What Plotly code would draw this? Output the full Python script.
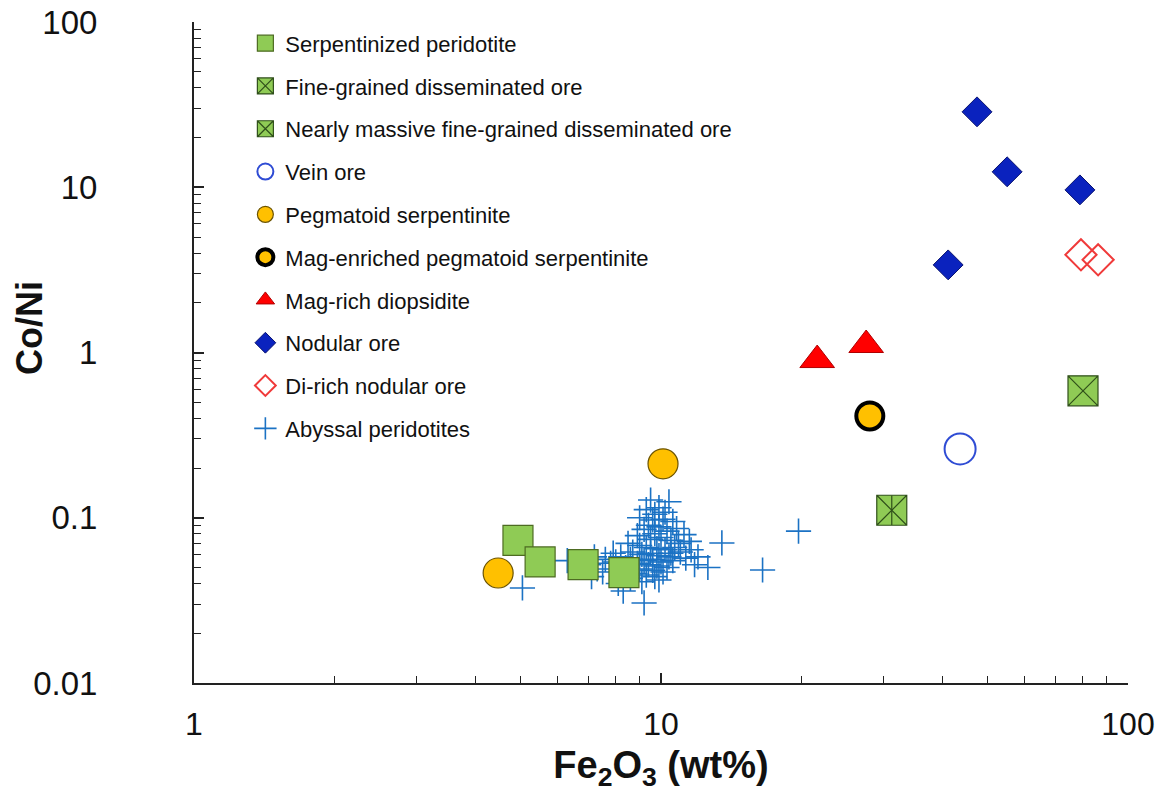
import plotly.graph_objects as go

# ---------------- data ----------------
serp_x = [4.94, 5.51, 6.81, 8.33]
serp_y = [0.073, 0.054, 0.052, 0.0465]

fine_x = [31.2]
fine_y = [0.111]

massive_x = [80.1]
massive_y = [0.586]

vein_x = [43.7]
vein_y = [0.261]

pegm_x = [4.48, 10.1]
pegm_y = [0.0463, 0.212]

magpeg_x = [28.0]
magpeg_y = [0.413]

diop_x = [21.6, 27.5]
diop_y = [0.90, 1.11]

nod_x = [47.5, 55.1, 78.9, 41.2]
nod_y = [28.6, 12.4, 9.64, 3.39]

dinod_x = [79.3, 86.3]
dinod_y = [3.90, 3.64]

aby_x = [9.5, 10.4, 9.9, 9.3, 9.7, 10.2, 9.0, 9.6, 10.1, 10.6, 9.4, 9.9, 10.8, 9.2, 10.3,
         9.7, 11.2, 8.9, 10.0, 9.5, 10.5,
         8.5, 9.0, 9.3, 9.8, 10.2, 10.7, 11.0, 8.7, 9.1, 9.5, 9.9, 10.4, 8.2, 8.6, 9.2, 9.6,
         10.0, 10.6, 11.3, 8.0, 8.9, 9.4, 9.8, 10.3, 8.4, 9.0, 9.6, 10.1, 8.8, 9.3, 9.7, 8.6,
         9.1, 9.9, 10.5, 11.6, 12.0, 11.8, 10.9, 11.5,
         6.3, 6.7, 7.0, 7.2, 7.3, 7.6, 7.8, 7.5, 7.9, 7.1, 8.1,
         5.05, 9.2, 12.6, 13.5, 16.5, 19.7, 8.3]
aby_y = [0.128, 0.125, 0.115, 0.112, 0.105, 0.108, 0.100, 0.097, 0.098, 0.095, 0.090, 0.088,
         0.086, 0.085, 0.083, 0.080, 0.079, 0.078, 0.076, 0.074, 0.073,
         0.070, 0.068, 0.066, 0.065, 0.064, 0.066, 0.062, 0.062, 0.060, 0.061, 0.059, 0.058,
         0.058, 0.056, 0.055, 0.056, 0.054, 0.055, 0.057, 0.054, 0.053, 0.052, 0.051, 0.050,
         0.050, 0.049, 0.048, 0.047, 0.046, 0.045, 0.044, 0.043, 0.041, 0.042, 0.061, 0.064,
         0.058, 0.052, 0.070, 0.072,
         0.055, 0.054, 0.052, 0.058, 0.049, 0.056, 0.053, 0.047, 0.061, 0.044, 0.040,
         0.0376, 0.0305, 0.050, 0.0704, 0.0483, 0.083, 0.036]

x_ticks = [1, 10, 100]
y_ticks = [0.01, 0.1, 1, 10, 100]
y_tick_text = ["0.01", "0.1", "1", "10", "100"]

# ---------------- figure ----------------
fig = go.Figure()

def add(name, x, y, symbol, size, color, lcolor, lwidth, group, rank, showlegend=True):
    fig.add_trace(go.Scatter(
        x=x, y=y, mode="markers", name=name, legendgroup=group, showlegend=showlegend,
        legendrank=rank,
        marker=dict(symbol=symbol, size=size, color=color,
                    line=dict(color=lcolor, width=lwidth))))

add("Abyssal peridotites", aby_x, aby_y, "cross-thin-open", 18, "#1B72C4", "#1B72C4", 1.6, "j", 2000)
add("Serpentinized peridotite", serp_x, serp_y, "square", 30, "#8FCB55", "#4D6B22", 1.2, "a", 1001)
add("Fine-grained disseminated ore", fine_x, fine_y, "square-x", 30, "#8FCB55", "#2F4F1A", 1.2, "b", 1002)
add("Fine-grained disseminated ore", fine_x, fine_y, "line-ns", 21, "#2F4F1A", "#2F4F1A", 1.2, "b", 1003, False)
add("Nearly massive fine-grained disseminated ore", massive_x, massive_y, "square-x", 30, "#8FCB55", "#2F4F1A", 1.2, "c", 1004)
add("Vein ore", vein_x, vein_y, "circle-open", 31, "#2F4CD4", "#2F4CD4", 2, "d", 1005)
add("Pegmatoid serpentinite", pegm_x, pegm_y, "circle", 30, "#FFC000", "#6B5300", 1.2, "e", 1006)
add("Mag-enriched pegmatoid serpentinite", magpeg_x, magpeg_y, "circle", 27, "#FFC000", "#000000", 4, "f", 1007)
add("Mag-rich diopsidite", diop_x, diop_y, "triangle-up", 30, "#FF0000", "#B00000", 1, "g", 1008)
add("Nodular ore", nod_x, nod_y, "diamond", 23, "#0A22BE", "#0A1470", 1, "h", 1009)
add("Di-rich nodular ore", dinod_x, dinod_y, "diamond-open", 24, "#F03A3A", "#F03A3A", 2, "i", 1010)

minor_x = [m * d for d in [1, 10] for m in range(2, 10)]
minor_y = [m * d for d in [0.01, 0.1, 1, 10] for m in range(2, 10)]

font = "Liberation Sans, Arial, sans-serif"

fig.update_layout(
    width=1166, height=795,
    margin=dict(l=194, r=38, t=22, b=112),
    paper_bgcolor="white", plot_bgcolor="white",
    font=dict(family=font, color="#111111"),
    showlegend=True,
    legend=dict(x=0.055, y=0.9995, xanchor="left", yanchor="top",
                font=dict(size=22, family=font, color="#111111"),
                bgcolor="rgba(255,255,255,0)", traceorder="grouped",
                tracegroupgap=11.2, itemsizing="trace", maxheight=760),
    xaxis=dict(type="log", range=[0, 2], showgrid=False, zeroline=False, automargin=False,
               showline=True, linecolor="#222222", linewidth=2,
               ticks="inside", ticklen=10, tickwidth=1.5, tickcolor="#222222",
               tickvals=x_ticks, ticktext=[str(v) for v in x_ticks],
               tickfont=dict(size=32, family=font, color="#111111"),
               ticklabelstandoff=12,
               minor=dict(ticks="inside", ticklen=7, tickwidth=1.2, tickcolor="#222222",
                          tickvals=minor_x, showgrid=False),
               title=dict(text="<b>Fe<sub>2</sub>O<sub>3</sub> (wt%)</b>",
                          font=dict(size=38, family=font, color="#111111"), standoff=10)),
    yaxis=dict(type="log", range=[-2, 2], showgrid=False, zeroline=False, automargin=False,
               showline=True, linecolor="#222222", linewidth=2,
               ticks="inside", ticklen=10, tickwidth=1.5, tickcolor="#222222",
               tickvals=y_ticks, ticktext=y_tick_text,
               tickfont=dict(size=33, family=font, color="#111111"),
               ticklabelstandoff=88,
               minor=dict(ticks="inside", ticklen=7, tickwidth=1.2, tickcolor="#222222",
                          tickvals=minor_y, showgrid=False)),
    annotations=[dict(text="<b>Co/Ni</b>", textangle=-90, xref="paper", yref="paper",
                      x=-0.1767, y=0.537, xanchor="center", yanchor="middle",
                      showarrow=False, font=dict(size=36, family=font, color="#111111"))],
)

fig.write_html("out.html")
